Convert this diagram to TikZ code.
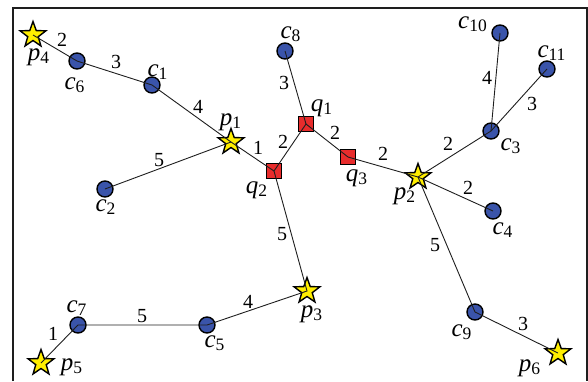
\documentclass[tikz,border=0pt]{standalone}
\usepackage{fontspec}
\setmainfont{Liberation Serif}
\usetikzlibrary{shapes.geometric}
\definecolor{myblue}{RGB}{58,84,170}
\definecolor{myyellow}{RGB}{255,238,0}
\definecolor{myred}{RGB}{232,44,44}
\definecolor{mydark}{RGB}{30,30,30}
\newcommand{\nlab}[2]{\textit{#1}\textsubscript{#2}}
\tikzset{
  cnode/.style={circle, draw=black, fill=myblue, minimum size=8pt,
    inner sep=0pt, line width=0.7pt},
  pnode/.style={star, star points=5, star point ratio=2.45, draw=black,
    fill=myyellow, minimum size=13.5pt, inner sep=0pt, line width=0.7pt},
  qnode/.style={rectangle, draw=black, fill=myred, minimum size=7.5pt,
    inner sep=0pt, line width=0.7pt},
  nlabel/.style={font=\fontsize{12.5}{14}\selectfont, inner sep=0pt},
  wlabel/.style={font=\fontsize{10}{12}\selectfont, inner sep=0pt},
  link/.style={line width=0.45pt, color=mydark}
}
\begin{document}
\begin{tikzpicture}[x=0.5pt, y=-0.5pt]
  \useasboundingbox (0,0) rectangle (588,381);
  % Frame
  \draw[line width=1pt, color=mydark] (13,381) |- (587,8) -- (587,381);

  % Stars
  \node[pnode] (p1) at (231,142) {};
  \node[pnode] (p2) at (418,177) {};
  \node[pnode] (p3) at (307,291) {};
  \node[pnode] (p4) at (33,35) {};
  \node[pnode] (p5) at (41,363) {};
  \node[pnode] (p6) at (558,353) {};

  % Circles
  \node[cnode] (c1) at (152,85) {};
  \node[cnode] (c2) at (105,189) {};
  \node[cnode] (c3) at (491,131) {};
  \node[cnode] (c4) at (493,211) {};
  \node[cnode] (c5) at (207,325) {};
  \node[cnode] (c6) at (77,61) {};
  \node[cnode] (c7) at (78,325) {};
  \node[cnode] (c8) at (285,51) {};
  \node[cnode] (c9) at (475,312) {};
  \node[cnode] (c10) at (500,33) {};
  \node[cnode] (c11) at (547,69) {};

  % Squares
  \node[qnode] (q1) at (306,124) {};
  \node[qnode] (q2) at (274,171) {};
  \node[qnode] (q3) at (348,157) {};

  % Links
  \draw[link] (p4.center) -- (c6.center) -- (c1.center) -- (p1.center) -- (q2.center);
  \draw[link] (c2.center) -- (p1.center);
  \draw[link] (q2.center) -- (q1.center) -- (q3.center) -- (p2.center);
  \draw[link] (c8.center) -- (q1.center);
  \draw[link] (p2.center) -- (c3.center) -- (c10.center);
  \draw[link] (c3.center) -- (c11.center);
  \draw[link] (p2.center) -- (c4.center);
  \draw[link] (p2.center) -- (c9.center) -- (p6.center);
  \draw[link] (q2.center) -- (p3.center) -- (c5.center) -- (c7.center) -- (p5.center);

  % Node labels
  \node[nlabel] (lp1) at (231,122) {\nlab{p}{1}};
  \node[nlabel] (lp2) at (405,196) {\nlab{p}{2}};
  \node[nlabel] (lp3) at (312,314) {\nlab{p}{3}};
  \node[nlabel] (lp4) at (39,57) {\nlab{p}{4}};
  \node[nlabel] (lp5) at (72,367) {\nlab{p}{5}};
  \node[nlabel] (lp6) at (530,368) {\nlab{p}{6}};
  \node[nlabel] (lc1) at (158,72) {\nlab{c}{1}};
  \node[nlabel] (lc2) at (106,207) {\nlab{c}{2}};
  \node[nlabel] (lc3) at (511,146) {\nlab{c}{3}};
  \node[nlabel] (lc4) at (503,230) {\nlab{c}{4}};
  \node[nlabel] (lc5) at (215,343) {\nlab{c}{5}};
  \node[nlabel] (lc6) at (75,85) {\nlab{c}{6}};
  \node[nlabel] (lc7) at (77,308) {\nlab{c}{7}};
  \node[nlabel] (lc8) at (291,34) {\nlab{c}{8}};
  \node[nlabel] (lc9) at (462,332) {\nlab{c}{9}};
  \node[nlabel] (lc10) at (473,24) {\nlab{c}{10}};
  \node[nlabel] (lc11) at (552,53) {\nlab{c}{11}};
  \node[nlabel] (lq1) at (322,108) {\nlab{q}{1}};
  \node[nlabel] (lq2) at (257,190) {\nlab{q}{2}};
  \node[nlabel] (lq3) at (357,178) {\nlab{q}{3}};

  % Weights
  \node[wlabel] (w1) at (62,40) {2};
  \node[wlabel] (w2) at (116,62) {3};
  \node[wlabel] (w3) at (198,107) {4};
  \node[wlabel] (w4) at (258,148) {1};
  \node[wlabel] (w5) at (159,160) {5};
  \node[wlabel] (w6) at (283,142) {2};
  \node[wlabel] (w7) at (284,83) {3};
  \node[wlabel] (w8) at (335,133) {2};
  \node[wlabel] (w9) at (383,154) {2};
  \node[wlabel] (w10) at (448,144) {2};
  \node[wlabel] (w11) at (487,78) {4};
  \node[wlabel] (w12) at (532,104) {3};
  \node[wlabel] (w13) at (468,188) {2};
  \node[wlabel] (w14) at (435,245) {5};
  \node[wlabel] (w15) at (523,324) {3};
  \node[wlabel] (w16) at (282,234) {5};
  \node[wlabel] (w17) at (248,302) {4};
  \node[wlabel] (w18) at (142,316) {5};
  \node[wlabel] (w19) at (53,334) {1};
\end{tikzpicture}
\end{document}
